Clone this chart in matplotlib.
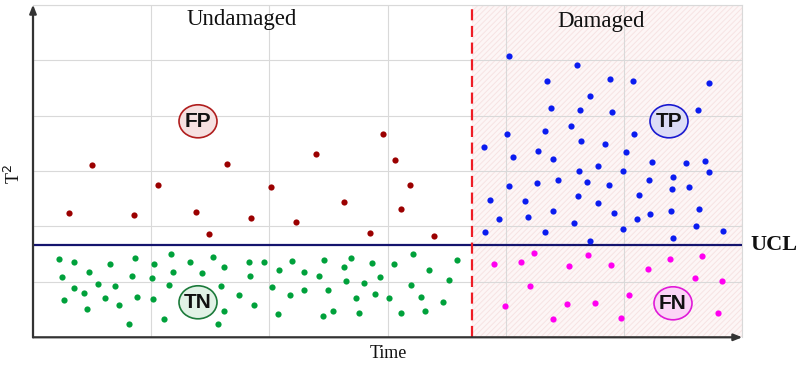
import matplotlib
matplotlib.use("Agg")
import matplotlib.pyplot as plt
from matplotlib.patches import Ellipse, Rectangle

plt.rcParams["hatch.linewidth"] = 0.7

# ---- data (arbitrary units: time on x, T^2 on y) ----
x_max, y_max = 709.3, 332.6
ucl = 92.0
damage_onset = 439.0

fp_x = [36, 59, 101, 125, 163, 176, 194, 218, 238, 263, 283, 311, 337, 350, 362, 368, 377, 401]
fp_y = [124, 172, 122, 152, 125, 103, 173, 119, 150, 115, 183, 135, 104, 203, 177, 128, 152, 101]

tn_x = [26, 41, 29, 56, 77, 41, 51, 65, 82, 31, 72, 54, 86, 96, 102, 99, 104, 121, 119, 120,
        131, 138, 140, 136, 157, 169, 180, 191, 188, 191, 185, 206, 216, 217, 221, 231, 239, 245,
        246, 259, 271, 257, 271, 291, 286, 295, 290, 300, 318, 311, 313, 323, 326, 339, 347, 331,
        342, 356, 361, 368, 380, 396, 378, 388, 392, 410, 416, 424]
tn_y = [78, 75, 60, 65, 73, 49, 44, 53, 51, 37, 39, 28, 32, 13, 79, 61, 40, 73, 59, 38,
        18, 83, 65, 52, 75, 64, 80, 70, 51, 26, 13, 42, 75, 61, 32, 75, 50, 23,
        67, 76, 65, 42, 47, 77, 61, 47, 21, 26, 79, 70, 56, 39, 24, 74, 60, 54,
        43, 39, 73, 24, 83, 67, 52, 40, 26, 35, 57, 77]

tp_x = [476, 544, 514, 577, 600, 676, 557, 518, 547, 579, 665, 538, 512, 474, 601, 451, 548, 572,
        505, 593, 480, 520, 619, 653, 672, 565, 546, 590, 676, 640, 476, 504, 525, 554, 576, 616,
        639, 656, 545, 606, 457, 492, 565, 666, 520, 581, 617, 638, 466, 495, 541, 604, 590, 663,
        452, 512, 690, 557, 640]
tp_y = [281, 272, 256, 258, 256, 254, 241, 229, 227, 225, 227, 211, 206, 203, 203, 190, 196, 193,
        186, 185, 180, 178, 175, 174, 176, 171, 166, 166, 165, 160, 151, 154, 157, 155, 152, 157,
        148, 150, 141, 142, 137, 136, 134, 128, 126, 124, 123, 126, 118, 120, 114, 118, 108, 111,
        105, 105, 106, 96, 99]

fn_x = [461, 488, 501, 536, 555, 578, 615, 637, 669, 497, 662, 689, 596, 472, 534, 562, 520, 588, 685]
fn_y = [73, 75, 84, 71, 82, 72, 68, 78, 81, 51, 59, 56, 42, 31, 33, 34, 18, 19, 24]

region_labels = ["Undamaged", "Damaged"]
box_labels = ["FP", "TN", "TP", "FN"]

# ---- figure ----
fig = plt.figure(figsize=(8.0, 3.67), dpi=100)
ax = fig.add_axes([33 / 800, 1 - 337.3 / 367, x_max / 800, y_max / 367])
ax.set_xlim(0, x_max)
ax.set_ylim(0, y_max)

# grid
xt = [x_max * i / 6 for i in range(7)]
yt = [y_max * i / 6 for i in range(7)]
ax.set_xticks(xt)
ax.set_yticks(yt)
ax.tick_params(length=0, labelbottom=False, labelleft=False)
ax.grid(True, color="#d9d9d9", linewidth=0.8)
ax.set_axisbelow(True)

for s in ["top", "right"]:
    ax.spines[s].set_color("#d9d9d9")
    ax.spines[s].set_linewidth(0.8)
for s in ["left", "bottom"]:
    ax.spines[s].set_visible(False)

# damaged region shading
rect = Rectangle((damage_onset, 0), x_max - damage_onset, y_max,
                 facecolor="#fdf6f6", edgecolor="#f7e3e3", hatch="//////",
                 linewidth=0, zorder=0.5)
ax.add_patch(rect)

# UCL line and damage onset
ax.axhline(ucl, color="#14146e", linewidth=1.6, zorder=3)
ax.axvline(damage_onset, color="#ee1c25", linewidth=1.6, dashes=(5, 2.5), zorder=3)

# points
ms = 20
ax.scatter(fp_x, fp_y, s=ms, color="#9b0000", zorder=4, linewidths=0)
ax.scatter(tn_x, tn_y, s=ms, color="#00a13b", zorder=4, linewidths=0)
ax.scatter(tp_x, tp_y, s=ms, color="#0a1cf0", zorder=4, linewidths=0)
ax.scatter(fn_x, fn_y, s=ms, color="#ff00f0", zorder=4, linewidths=0)

# label bubbles
bubbles = [
    (box_labels[0], 165, 216, "#f6e1e1", "#b01e1e"),
    (box_labels[1], 165, 35, "#e1f2e6", "#1b7a3a"),
    (box_labels[2], 636, 216, "#dcdcf6", "#1a1ad0"),
    (box_labels[3], 640, 34, "#fbd6f6", "#e01ad8"),
]
for lab, cx, cy, fc, ec in bubbles:
    ax.add_patch(Ellipse((cx, cy), 38, 33, facecolor=fc, edgecolor=ec,
                         linewidth=1.2, zorder=5))
    ax.text(cx, cy, lab, ha="center", va="center", fontsize=15, fontweight="bold",
            family="Liberation Sans", color="#111111", zorder=6)

# region titles
ax.text(209, 318, region_labels[0], ha="center", va="center", fontsize=16.5,
        family="Liberation Serif", color="#111111")
ax.text(568, 316, region_labels[1], ha="center", va="center", fontsize=16.5,
        family="Liberation Serif", color="#111111")

# UCL label
ax.text(717, ucl, "UCL", ha="left", va="center", fontsize=16, fontweight="bold",
        family="Liberation Serif", color="#111111", clip_on=False)

# axis arrows
ax.annotate("", xy=(0, 1.0), xytext=(0, 0), xycoords="axes fraction",
            arrowprops=dict(arrowstyle="-|>,head_length=0.5,head_width=0.2",
                            color="#333333", linewidth=1.6, shrinkA=0, shrinkB=0))
ax.annotate("", xy=(1.0, 0), xytext=(0, 0), xycoords="axes fraction",
            arrowprops=dict(arrowstyle="-|>,head_length=0.5,head_width=0.2",
                            color="#333333", linewidth=1.6, shrinkA=0, shrinkB=0))

# axis labels
fig.text(388 / 800, 1 - 353 / 367, "Time", ha="center", va="center", fontsize=13,
         family="Liberation Serif", color="#111111")
fig.text(14 / 800, 1 - 174 / 367, r"T$^2$", ha="center", va="center", fontsize=13,
         family="Liberation Serif", rotation=90, color="#111111")

fig.savefig("out.png", dpi=100)
